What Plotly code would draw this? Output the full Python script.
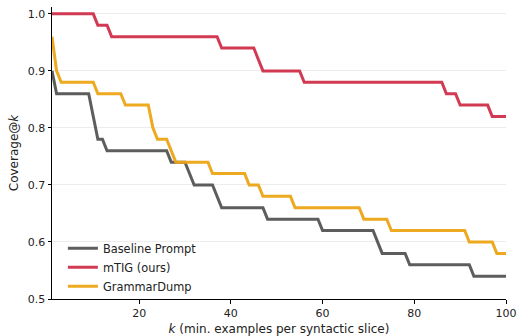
import plotly.graph_objects as go

# Vertices of each step curve (k, coverage)
baseline_k = [1, 2, 9, 11, 12, 13, 26, 27, 30, 32, 36, 38, 47, 48, 59, 60, 71, 73, 78, 79, 92, 93, 100]
baseline_v = [0.90, 0.86, 0.86, 0.78, 0.78, 0.76, 0.76, 0.74, 0.74, 0.70, 0.70, 0.66, 0.66, 0.64, 0.64,
              0.62, 0.62, 0.58, 0.58, 0.56, 0.56, 0.54, 0.54]

mtig_k = [1, 10, 11, 13, 14, 37, 38, 45, 46, 47, 55, 56, 86, 87, 89, 90, 96, 97, 100]
mtig_v = [1.0, 1.0, 0.98, 0.98, 0.96, 0.96, 0.94, 0.94, 0.92, 0.90, 0.90, 0.88, 0.88, 0.86, 0.86,
          0.84, 0.84, 0.82, 0.82]

grammar_k = [1, 2, 3, 10, 11, 16, 17, 22, 23, 24, 26, 28, 35, 36, 43, 44, 46, 47, 53, 54, 68, 69,
             74, 75, 91, 92, 97, 98, 100]
grammar_v = [0.96, 0.90, 0.88, 0.88, 0.86, 0.86, 0.84, 0.84, 0.80, 0.78, 0.78, 0.74, 0.74, 0.72,
             0.72, 0.70, 0.70, 0.68, 0.68, 0.66, 0.66, 0.64, 0.64, 0.62, 0.62, 0.60, 0.60, 0.58, 0.58]

series_names = ["Baseline Prompt", "mTIG (ours)", "GrammarDump"]
colors = ["#555555", "#d0304b", "#eda514"]

x_ticks = [20, 40, 60, 80, 100]
y_ticks = [0.5, 0.6, 0.7, 0.8, 0.9, 1.0]

fig = go.Figure()
for name, xs, ys, c in zip(series_names,
                           [baseline_k, mtig_k, grammar_k],
                           [baseline_v, mtig_v, grammar_v],
                           colors):
    fig.add_trace(go.Scatter(x=xs, y=ys, mode="lines", name=name,
                             line=dict(color=c, width=3), opacity=0.95))

font = "DejaVu Sans, sans-serif"
fig.update_layout(
    width=517, height=336,
    margin=dict(l=52, r=11, t=7, b=37, autoexpand=False),
    paper_bgcolor="white", plot_bgcolor="white",
    font=dict(family=font, size=11, color="#222222"),
    showlegend=True,
    legend=dict(x=0.024, y=-0.006, xanchor="left", yanchor="bottom",
                bgcolor="rgba(255,255,255,0)", font=dict(size=11.4),
                tracegroupgap=0),
    xaxis=dict(range=[1, 100], tickvals=x_ticks, showgrid=False, zeroline=False,
               automargin=False,
               showline=True, linecolor="black", linewidth=1,
               ticks="outside", ticklen=3.5, tickcolor="black",
               title=dict(text="<i>k</i> (min. examples per syntactic slice)",
                          font=dict(size=12), standoff=5)),
    yaxis=dict(range=[0.5, 1.012], tickvals=y_ticks, tickformat=".1f",
               automargin=False,
               showgrid=True, gridcolor="#ececec", gridwidth=1, zeroline=False,
               showline=True, linecolor="black", linewidth=1,
               ticks="outside", ticklen=3.5, tickcolor="black",
               title=dict(text="Coverage@<i>k</i>", font=dict(size=12), standoff=6)),
)

fig.write_html("out.html")
